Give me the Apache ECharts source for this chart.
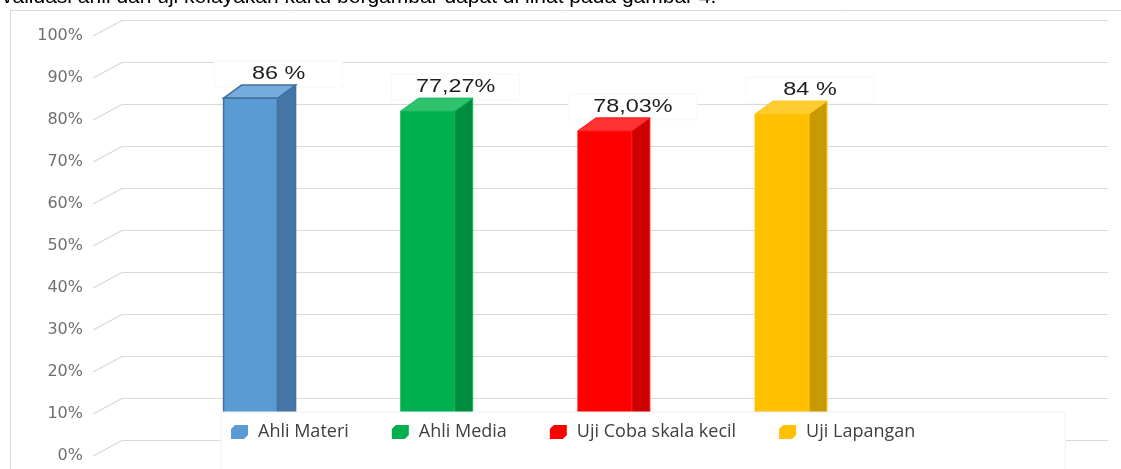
<!DOCTYPE html>
<html>
<head>
<meta charset="utf-8">
<script src="https://cdn.jsdelivr.net/npm/echarts@6/dist/echarts.min.js"></script>
<style>
html,body{margin:0;padding:0;background:#fff;}
#c{width:1121px;height:469px;}
</style>
</head>
<body>
<div id="c"></div>
<script>
// ---- data ----
const categories = ['Ahli Materi', 'Ahli Media', 'Uji Coba skala kecil', 'Uji Lapangan'];
const barValues = [84.5, 81.4, 76.7, 80.7];          // bar heights (%)
const labelTexts = ['86 %', '77,27%', '78,03%', '84 %']; // data label texts as printed
const yTicks = [0, 10, 20, 30, 40, 50, 60, 70, 80, 90, 100];
const caption = 'validasi ahli dan uji kelayakan kartu bergambar dapat di lihat pada gambar 4.';

// ---- styles ----
const palette = [
  { front: '#5b9bd5', side: '#4676a5', top: '#76abde', edge: '#41719c' },
  { front: '#00b050', side: '#008c3f', top: '#30c16d', edge: '#14b85c' },
  { front: '#ff0000', side: '#cc0000', top: '#ff3333', edge: '#ff1a1a' },
  { front: '#ffc000', side: '#c99a00', top: '#ffcb30', edge: '#ffc515' }
];
const BAR_W = 54, DEPTH_X = 18, DEPTH_Y = 13;

function barRenderer(k) {
  return function (params, api) {
    const ix = api.value(0), v = api.value(1);
    const back = api.coord([ix, v]);
    const base = api.coord([ix, 0]);
    const c = palette[k];
    const xL = back[0] - BAR_W / 2, xR = back[0] + BAR_W / 2;
    const yT = back[1] + DEPTH_Y, yB = base[1] + DEPTH_Y;
    const lx = back[0] + 28, ly = back[1] - 11;
    const lw = k === 0 ? 1.5 : 1;
    return {
      type: 'group',
      children: [
        { type: 'rect', shape: { x: lx - 64, y: ly - 13, width: 128, height: 26 },
          style: { fill: '#ffffff', stroke: '#f7f7f7', lineWidth: 1 } },
        { type: 'rect', shape: { x: xL, y: yT, width: BAR_W, height: yB - yT },
          style: { fill: c.front, stroke: c.edge, lineWidth: lw } },
        { type: 'polygon', shape: { points: [[xR, yT], [xR + DEPTH_X, yT - DEPTH_Y], [xR + DEPTH_X, yB - DEPTH_Y], [xR, yB]] },
          style: { fill: c.side, stroke: c.edge, lineWidth: lw } },
        { type: 'polygon', shape: { points: [[xL, yT], [xL + DEPTH_X, yT - DEPTH_Y], [xR + DEPTH_X, yT - DEPTH_Y], [xR, yT]] },
          style: { fill: c.top, stroke: c.edge, lineWidth: lw } },
        { type: 'text', x: lx, y: ly, scaleX: 1.3, scaleY: 1,
          style: { x: 0, y: 0, text: labelTexts[k], fill: '#1e1e1e',
                   font: '18px "Liberation Sans", Arial, sans-serif',
                   align: 'center', verticalAlign: 'middle' } }
      ]
    };
  };
}

const barSeries = categories.map((name, k) => ({
  type: 'custom',
  name: name,
  coordinateSystem: 'cartesian2d',
  xAxisIndex: 2,
  yAxisIndex: 2,
  itemStyle: { color: palette[k].front },
  data: [[name, barValues[k]]],
  encode: { x: 0, y: 1 },
  renderItem: barRenderer(k),
  z: 3,
  silent: true
}));

const wallSeries = {
  type: 'custom',
  coordinateSystem: 'cartesian2d',
  xAxisIndex: 0,
  yAxisIndex: 0,
  data: yTicks.map(t => [0, t]),
  encode: { x: 0, y: 1 },
  renderItem: function (params, api) {
    const b = api.coord([0, api.value(1)]);
    return { type: 'line',
      shape: { x1: b[0] - 30, y1: b[1] + 16, x2: b[0], y2: b[1] },
      style: { stroke: '#d9d9d9', lineWidth: 1.2 } };
  },
  z: 1,
  silent: true
};

const chart = echarts.init(document.getElementById('c'), null, { renderer: 'canvas' });
chart.setOption({
  animation: false,
  backgroundColor: '#ffffff',
  graphic: [
    { type: 'rect', z: -10, shape: { x: 10.5, y: 10.5, width: 1200, height: 600 },
      style: { fill: 'none', stroke: '#d9d9d9', lineWidth: 1 } },
    { type: 'text', x: 2, y: -3,
      style: { text: caption, fill: '#000', font: '21px "Liberation Sans", Arial, sans-serif',
               verticalAlign: 'middle', align: 'left' } }
  ],
  grid: [
    { left: 123, right: 13, top: 20, bottom: 29 },   // back wall
    { left: 93, width: 10, top: 36, bottom: 13 },    // front edge (tick labels)
    { left: 162, width: 708.6, top: 20, bottom: 29 } // bars
  ],
  xAxis: [
    { gridIndex: 0, type: 'value', min: 0, max: 1, show: false },
    { gridIndex: 1, type: 'value', min: 0, max: 1, show: false },
    { gridIndex: 2, type: 'category', data: categories, show: false }
  ],
  yAxis: [
    { gridIndex: 0, type: 'value', min: 0, max: 100, interval: 10,
      axisLabel: { show: false }, axisLine: { show: false }, axisTick: { show: false },
      splitLine: { lineStyle: { color: '#d9d9d9', width: 1.2 } } },
    { gridIndex: 1, type: 'value', min: 0, max: 100, interval: 10,
      axisLine: { show: false }, axisTick: { show: false }, splitLine: { show: false },
      axisLabel: { formatter: '{value}%', color: '#6f6f6f', fontSize: 16,
                   fontFamily: '"DejaVu Sans", sans-serif', margin: 10 } },
    { gridIndex: 2, type: 'value', min: 0, max: 100, interval: 10, show: false }
  ],
  legend: {
    data: categories,
    left: 221,
    top: 412,
    orient: 'horizontal',
    padding: [11, 150, 40, 10],
    itemGap: 43,
    itemWidth: 17,
    itemHeight: 14,
    icon: 'path://M0,4 L4,0 L17,0 L17,10 L13,14 L0,14 Z',
    backgroundColor: '#ffffff',
    borderColor: '#efefef',
    borderWidth: 1,
    selectedMode: false,
    textStyle: { color: '#404040', fontSize: 18, fontFamily: '"Open Sans", sans-serif',
                 padding: [0, 0, 0, 5] }
  },
  series: [wallSeries].concat(barSeries)
});
</script>
</body>
</html>
